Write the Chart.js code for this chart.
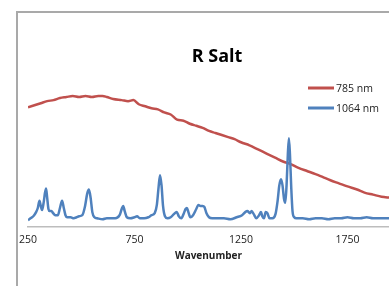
<!DOCTYPE html>
<html>
<head>
<meta charset="utf-8">
<script src="https://cdn.jsdelivr.net/npm/chart.js@4"></script>
<style>
    html, body { margin: 0; padding: 0; background: #fff; overflow: hidden; }
    #wrap { position: relative; width: 389px; height: 286px; overflow: hidden; }
    #frame { position: absolute; left: 16px; top: 11px; width: 420px; height: 320px; border: 2px solid #a9a9a9; box-sizing: border-box; }
    canvas { position: absolute; left: 0; top: 0; }
</style>
</head>
<body>
<div id="wrap">
    <div id="frame"></div>
    <canvas id="raman" width="389" height="286"></canvas>
</div>
<script>
// wavenumber / intensity
const redWave = [250, 280, 310, 340, 370, 400, 430, 460, 490, 520, 550, 580, 600, 620, 650, 690, 720, 745, 770, 800,
    830, 860, 890, 920, 950, 980, 1010, 1040, 1070, 1100, 1130, 1160, 1190, 1220, 1250, 1290, 1330, 1370, 1410, 1450,
    1480, 1520, 1560, 1600, 1635, 1670, 1710, 1750, 1795, 1830, 1870, 1910, 1950];
const redValues = [116, 118, 120, 122, 123, 125, 126, 127, 126, 127, 126, 127, 127, 126, 124, 123, 122, 123, 119, 117,
    115, 114, 111, 109, 104, 103, 100, 98, 96, 93, 91, 89, 87, 85, 82, 79, 75, 71, 67, 63,
    61, 57, 54, 51, 48, 45, 42, 39, 36, 33, 31, 29, 28];

const blueWave = [250, 262, 275, 288, 296, 304, 310, 316, 324, 330, 335, 340, 346, 352, 360, 368, 378, 390, 400, 410,
    418, 426, 434, 450, 465, 478, 490, 505, 518, 528, 536, 544, 552, 562, 575, 600, 620, 640, 660, 680,
    690, 697, 704, 714, 730, 750, 762, 775, 795, 815, 830, 845, 855, 863, 870, 877, 884, 893, 905, 920,
    935, 948, 958, 970, 982, 990, 996, 1003, 1012, 1025, 1040, 1050, 1060, 1070, 1078, 1088, 1100, 1115, 1140, 1170,
    1200, 1230, 1255, 1270, 1280, 1292, 1300, 1310, 1322, 1335, 1344, 1350, 1358, 1366, 1374, 1384, 1398, 1412, 1422, 1430,
    1438, 1445, 1452, 1458, 1464, 1470, 1475, 1480, 1486, 1492, 1500, 1510, 1540, 1570, 1600, 1630, 1660, 1690, 1720, 1750,
    1780, 1810, 1840, 1870, 1900, 1950];
const blueValues = [6, 8, 10, 14, 18, 25, 20, 16, 24, 33, 37, 28, 17, 15, 15, 13, 11, 11, 18, 25,
    18, 11, 9, 9, 8, 9, 10, 11, 20, 32, 36, 28, 14, 9, 8, 7, 8, 8, 8, 11,
    17, 20, 15, 9, 8, 9, 10, 8, 8, 9, 11, 13, 21, 38, 50, 40, 20, 10, 8, 9,
    12, 14, 10, 8, 13, 17, 18, 14, 9, 11, 17, 21, 20, 20, 19, 13, 9, 8, 8, 8,
    7, 9, 11, 14, 15, 13, 15, 12, 8, 11, 14, 10, 8, 14, 13, 8, 8, 12, 25, 40,
    46, 40, 27, 23, 40, 70, 86, 70, 38, 15, 9, 8, 8, 7, 8, 8, 7, 8, 8, 9,
    8, 8, 9, 8, 8, 8];

const xTicks = [250, 750, 1250, 1750];
const seriesNames = ["785 nm", "1064 nm"];
const seriesColors = ["#c0504d", "#4f81bd"];

const toPoints = (xs, ys) => xs.map((x, i) => ({ x: x, y: ys[i] }));

// title + legend sit over the plot like in the excel original
const overlayText = {
    id: "overlayText",
    afterDraw(chart) {
        const ctx = chart.ctx;
        ctx.save();
        ctx.fillStyle = "#000";
        ctx.font = "bold 18px 'Open Sans'";
        ctx.textAlign = "center";
        ctx.textBaseline = "middle";
        ctx.fillText("R Salt", 217, 57);

        ctx.font = "10.5px 'Open Sans'";
        ctx.textAlign = "left";
        seriesNames.forEach((name, i) => {
            const y = 88 + i * 20;
            ctx.strokeStyle = seriesColors[i];
            ctx.lineWidth = 3;
            ctx.beginPath();
            ctx.moveTo(308, y);
            ctx.lineTo(334, y);
            ctx.stroke();
            ctx.fillStyle = "#222";
            ctx.fillText(name, 336, y + 1);
        });
        ctx.restore();
    },
};

new Chart(document.getElementById("raman"), {
    type: "line",
    data: {
        datasets: [
            {
                label: seriesNames[0],
                data: toPoints(redWave, redValues),
                borderColor: seriesColors[0],
                borderWidth: 2.5,
                pointRadius: 0,
                cubicInterpolationMode: "monotone",
                order: 1,
            },
            {
                label: seriesNames[1],
                data: toPoints(blueWave, blueValues),
                borderColor: seriesColors[1],
                borderWidth: 2.5,
                pointRadius: 0,
                cubicInterpolationMode: "monotone",
                order: 0,
            },
        ],
    },
    options: {
        responsive: false,
        animation: false,
        layout: { padding: { left: 28, right: 0, top: 21, bottom: 24 } },
        plugins: { legend: { display: false }, tooltip: { enabled: false } },
        scales: {
            x: {
                type: "linear",
                min: 250,
                max: 1945,
                afterBuildTicks: (scale) => {
                    scale.ticks = xTicks.map((v) => ({ value: v }));
                },
                grid: { display: false, drawTicks: false },
                border: { display: true, color: "#bdbdbd", width: 1.5 },
                ticks: {
                    color: "#222",
                    font: { family: "'Open Sans'", size: 10.5, lineHeight: 1 },
                    padding: 8,
                    maxRotation: 0,
                    callback: (v) => String(v),
                },
                title: {
                    display: true,
                    text: "Wavenumber",
                    color: "#222",
                    font: { family: "'Open Sans'", size: 10, weight: "bold" },
                    padding: { top: -3, bottom: 0 },
                },
            },
            y: { display: false, min: 0, max: 200 },
        },
    },
    plugins: [overlayText],
});
</script>
</body>
</html>
